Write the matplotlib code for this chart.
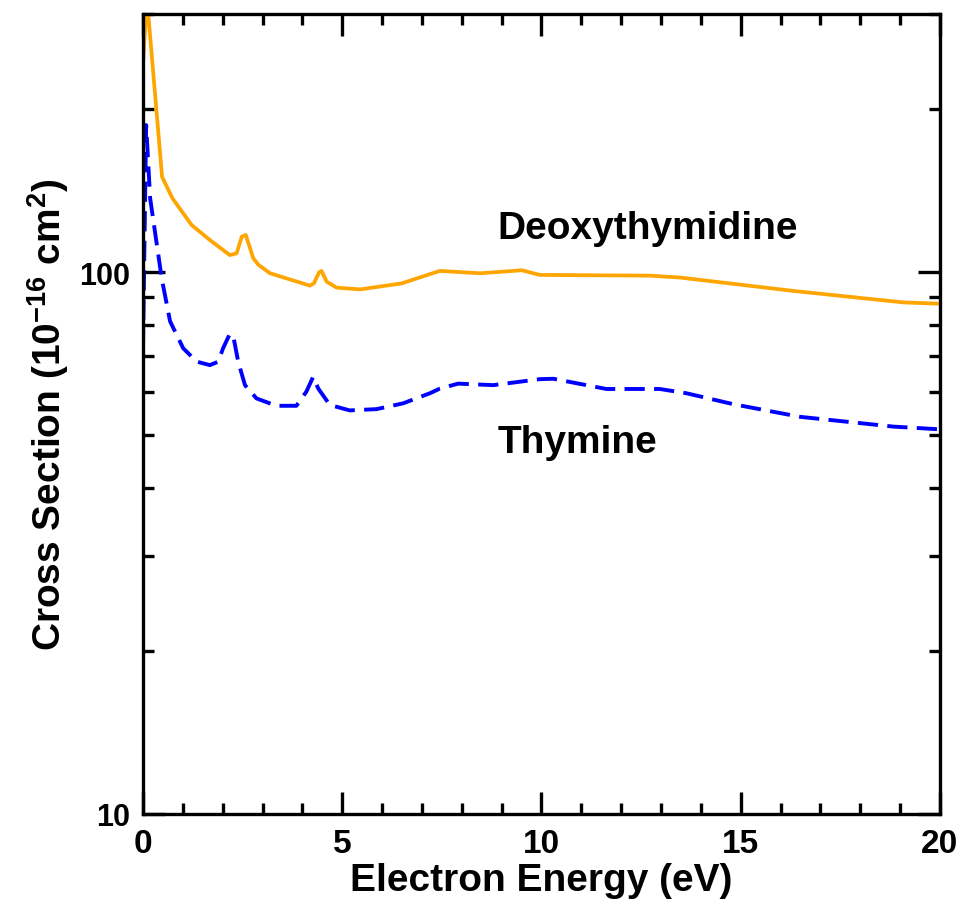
import numpy as np
import matplotlib
matplotlib.use('Agg')
import matplotlib.pyplot as plt
from matplotlib import rcParams
from matplotlib.ticker import MultipleLocator, LogLocator, NullFormatter

rcParams['font.family'] = ['Liberation Sans', 'DejaVu Sans']
rcParams['font.weight'] = 'bold'
rcParams['mathtext.fontset'] = 'custom'
rcParams['mathtext.rm'] = 'Liberation Sans:bold'
rcParams['mathtext.bf'] = 'Liberation Sans:bold'
rcParams['mathtext.default'] = 'bf'
rcParams['axes.linewidth'] = 2.4

# cross sections (1e-16 cm^2) vs electron energy (eV)
energy_dt = [0, 0.1, 0.48, 0.74, 1.22, 1.68, 2.18, 2.35, 2.48, 2.58, 2.77, 2.90, 3.19,
             4.19, 4.29, 4.42, 4.48, 4.61, 4.86, 5.45, 6.49, 7.45, 8.46, 9.29, 9.5,
             9.96, 12.72, 13.48, 16.32, 19.08, 20]
sigma_dt = [243, 320, 150, 137, 122.3, 114.7, 107.6, 108.4, 116.4, 117.2, 106.1, 103.2, 99.6,
            94.5, 95.4, 100, 100.6, 96.1, 93.7, 93.0, 95.4, 100.6, 99.6, 100.6, 100.9,
            98.9, 98.6, 97.8, 92.4, 88.0, 87.5]

energy_thy = [0, 0.08, 0.18, 0.30, 0.47, 0.68, 1.01, 1.35, 1.68, 1.89, 2.01, 2.18, 2.27,
              2.39, 2.56, 2.85, 3.35, 3.85, 4.10, 4.27, 4.40, 4.69, 5.19, 5.86, 6.53,
              7.2, 7.45, 7.91, 8.79, 9.96, 10.3, 11.63, 12.97, 13.64, 14.81, 16.49, 18.83, 20]
sigma_thy = [72, 187, 137, 119, 97.5, 81.2, 72.4, 68.4, 67.4, 68.4, 72.4, 77, 76,
             68.4, 61.9, 58.5, 56.7, 56.7, 60.2, 64.1, 61.0, 56.9, 55.6, 55.9, 57.3,
             59.8, 61.0, 62.3, 61.9, 63.5, 63.6, 60.9, 60.9, 59.8, 57.1, 54.1, 51.9, 51.3]

fig = plt.figure(figsize=(9.66, 9.03), dpi=100)
ax = fig.add_axes([0.148, 0.0975, 0.825, 0.886])

ax.plot(energy_dt, sigma_dt, color='#FFA500', linewidth=2.7)
ax.plot(energy_thy, sigma_thy, color='#0000FF', linewidth=2.8,
        linestyle=(0, (5.2, 2.4)))

ax.set_yscale('log')
ax.set_xlim(0, 20)
ax.set_ylim(10, 300)

ax.xaxis.set_major_locator(MultipleLocator(5))
ax.xaxis.set_minor_locator(MultipleLocator(1))
ax.yaxis.set_minor_locator(LogLocator(base=10, subs=np.arange(2, 10)))
ax.yaxis.set_minor_formatter(NullFormatter())
ax.set_yticks([10, 100])
ax.set_yticklabels(['10', '100'])

ax.tick_params(axis='both', which='major', width=2.4, length=16, direction='in',
               top=True, right=True)
ax.tick_params(axis='both', which='minor', width=2.4, length=8, direction='in',
               top=True, right=True)
ax.tick_params(axis='x', pad=10, labelsize=24)
ax.tick_params(axis='y', pad=9, labelsize=22)

ax.set_xlabel('Electron Energy (eV)', fontsize=28, fontweight='bold', labelpad=2)
ax.set_ylabel(r'Cross Section (10$^{-16}$ cm$^{2}$)', fontsize=28, fontweight='bold', labelpad=6)

ax.text(12.67, 120.6, 'Deoxythymidine', ha='center', va='center', fontsize=28, fontweight='bold')
ax.text(10.9, 48.7, 'Thymine', ha='center', va='center', fontsize=28, fontweight='bold')

plt.savefig('out.png', dpi=100)
